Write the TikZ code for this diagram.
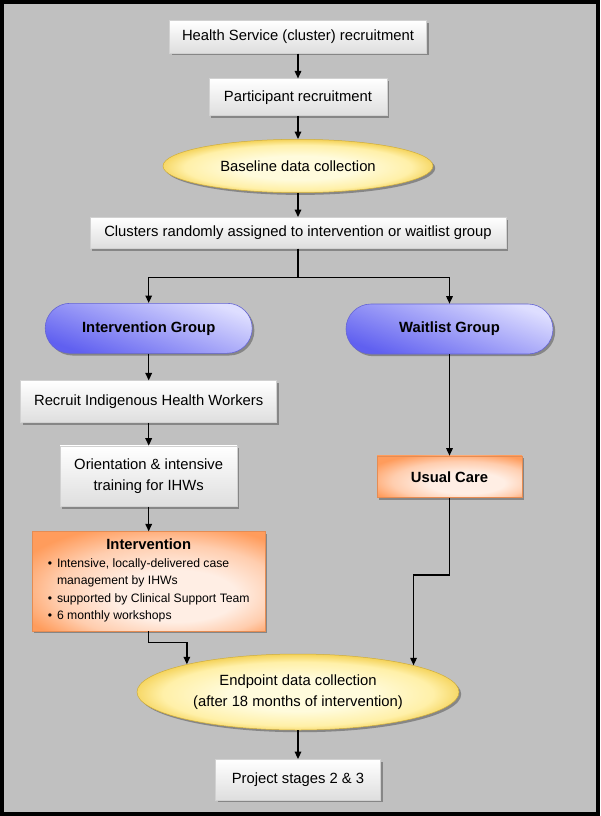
\documentclass[tikz,border=0pt]{standalone}
\usepackage{fontspec}
\setmainfont{Liberation Sans}
\usetikzlibrary{arrows.meta,shadows,shapes.geometric}
\definecolor{bggray}{HTML}{C0C0C0}
\definecolor{ylight}{HTML}{FFFBDC}
\definecolor{ymid}{HTML}{FFF0A8}
\definecolor{ydark}{HTML}{F2CC48}
\definecolor{olight}{HTML}{FFEEE4}
\definecolor{omid}{HTML}{FFCDAE}
\definecolor{odark}{HTML}{FF9C5C}
\definecolor{blight}{HTML}{DEDEFF}
\definecolor{bdark}{HTML}{6060F0}
\definecolor{bborder}{HTML}{6464D4}
\pgfdeclareradialshading{yellowsh}{\pgfpoint{0bp}{-2bp}}{color(0bp)=(ylight); color(11bp)=(ylight); color(21bp)=(ymid); color(27bp)=(ydark); color(50bp)=(ydark)}
\pgfdeclareradialshading{orangesh}{\pgfpoint{8bp}{-10bp}}{color(0bp)=(olight); color(13bp)=(olight); color(24bp)=(omid); color(33bp)=(odark); color(50bp)=(odark)}
\newcommand\mainsz{\fontsize{14.8}{20.5}\selectfont}
\newcommand\bulsz{\fontsize{12.2}{17.5}\selectfont}
\tikzset{
  shad/.style={drop shadow={shadow xshift=2.2pt,shadow yshift=-2.2pt,fill=black!55,opacity=0.75}},
  plainbox/.style={rectangle, shad, top color=white, bottom color=black!13, draw=black!18, line width=0.5pt, font=\mainsz, align=center, inner sep=2pt},
  yellowell/.style={ellipse, shad, shade, shading=yellowsh, draw=ydark!85!black, line width=0.5pt, font=\mainsz, align=center, inner sep=2pt},
  bluepill/.style={rectangle, rounded corners=25pt, shad, top color=blight, bottom color=bdark, shading angle=-20, draw=bborder, line width=0.6pt, font=\mainsz\bfseries, align=center, minimum width=207pt, minimum height=50pt},
  orangebox/.style={rectangle, shad, shade, shading=orangesh, draw=odark!90!black, line width=0.5pt, align=center, inner sep=2pt},
  arr/.style={-{Triangle[length=7.5pt,width=6.5pt]}, line width=1.5pt, draw=black},
  ln/.style={line width=1.5pt, draw=black}
}
\begin{document}
\begin{tikzpicture}[x=1pt,y=-1pt]
\useasboundingbox (0,0) rectangle (600,816);
\fill[black] (0,0) rectangle (600,816);
\fill[bggray] (4,4) rectangle (596,812);

\node[plainbox, minimum width=257pt, minimum height=32.6pt] (hs) at (298,37) {Health Service (cluster) recruitment};
\node[plainbox, minimum width=178pt, minimum height=37pt] (pr) at (298,97.2) {Participant recruitment};
\node[yellowell, minimum width=270pt, minimum height=53.4pt] (bl) at (298,166) {Baseline data collection};
\node[plainbox, minimum width=416pt, minimum height=31pt] (cl) at (298,232.8) {Clusters randomly assigned to intervention or waitlist group};

\node[bluepill] (ig) at (148.7,328.3) {Intervention Group};
\node[bluepill] (wg) at (449.5,329) {Waitlist Group};

\node[plainbox, minimum width=256pt, minimum height=42pt] (ri) at (148.7,401.7) {Recruit Indigenous Health Workers};
\node[plainbox, minimum width=177pt, minimum height=60.7pt] (ot) at (148.7,476.3) {Orientation \& intensive\\training for IHWs};
\node[orangebox, minimum width=145pt, minimum height=41.7pt, font=\mainsz\bfseries] (uc) at (449.5,476.8) {Usual Care};
\node[orangebox, minimum width=233pt, minimum height=99.3pt] (iv) at (148.7,581.3) {\bulsz\begin{tabular}{@{}l@{\hspace{5pt}}l@{}}\multicolumn{2}{c}{\fontsize{14.8}{16}\selectfont\bfseries Intervention}\\
\textbullet & Intensive, locally-delivered case\\
 & management by IHWs\\
\textbullet & supported by Clinical Support Team\\
\textbullet & 6 monthly workshops
\end{tabular}};

\node[yellowell, minimum width=322pt, minimum height=76pt] (ep) at (298,692) {Endpoint data collection\\(after 18 months of intervention)};
\node[plainbox, minimum width=164.6pt, minimum height=40.7pt] (ps) at (298,779.7) {Project stages 2 \& 3};

\coordinate (sp) at (298,277.3);

\draw[arr] (hs) -- (pr);
\draw[arr] (pr) -- (bl);
\draw[arr] (bl) -- (cl);
\draw[ln] (cl.south) -- (sp);
\draw[arr] (sp) -| (ig.north);
\draw[arr] (sp) -| (wg.north);
\draw[arr] (ig) -- (ri);
\draw[arr] (ri) -- (ot);
\draw[arr] (ot) -- (iv);
\draw[arr] (wg) -- (uc);
\draw[arr] (iv.south) -- ++(0,11.3) -| (ep.166.8);
\draw[arr] (uc.south) -- ++(0,77.3) -| (ep.13.7);
\draw[arr] (ep) -- (ps);
\end{tikzpicture}
\end{document}
